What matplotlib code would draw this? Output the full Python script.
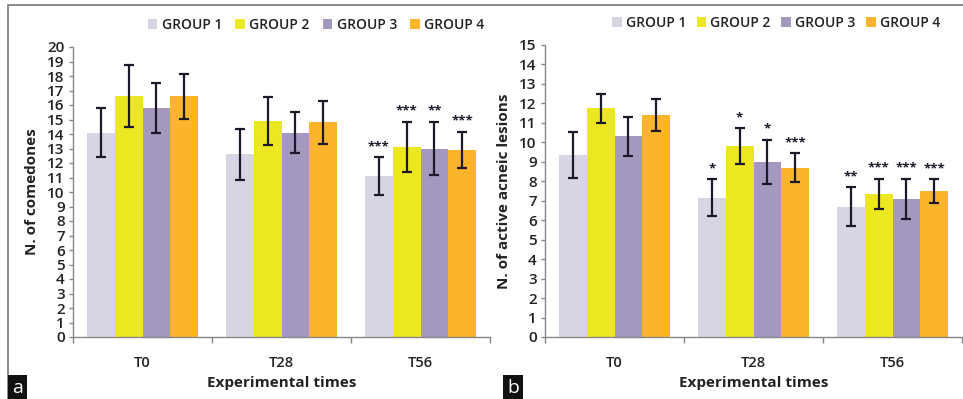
import numpy as np
import matplotlib
matplotlib.use('Agg')
import matplotlib.pyplot as plt
from matplotlib.patches import Rectangle

plt.rcParams['font.family'] = ['Open Sans', 'DejaVu Sans']

times = ['T0', 'T28', 'T56']
groups = ['GROUP 1', 'GROUP 2', 'GROUP 3', 'GROUP 4']
colors = ['#D9D4E3', '#EDE722', '#A498BF', '#FBB42B']

# panel a: comedones (rows = groups, cols = times)
comedones = [[14.1, 12.6, 11.1],
             [16.6, 14.9, 13.1],
             [15.8, 14.1, 13.0],
             [16.6, 14.8, 12.9]]
comedones_err = [[1.7, 1.75, 1.3],
                 [2.15, 1.65, 1.75],
                 [1.75, 1.4, 1.85],
                 [1.55, 1.5, 1.25]]
comedones_sig = [['', '', '***'],
                 ['', '', '***'],
                 ['', '', '**'],
                 ['', '', '***']]

# panel b: active acneic lesions
lesions = [[9.35, 7.15, 6.7],
           [11.75, 9.8, 7.35],
           [10.3, 9.0, 7.1],
           [11.4, 8.7, 7.5]]
lesions_err = [[1.2, 0.95, 0.98],
               [0.75, 0.92, 0.77],
               [1.0, 1.12, 1.03],
               [0.83, 0.73, 0.6]]
lesions_sig = [['', '*', '**'],
               ['', '*', '***'],
               ['', '*', '***'],
               ['', '***', '***']]

W, H = 963, 399
fig = plt.figure(figsize=(W/100, H/100), dpi=100)


def panel(rect, vals, errs, sigs, ymax, ylabel, letter, letter_x, legend_x, colsp):
	ax = fig.add_axes(rect)
	x = np.arange(len(times))
	bw = 0.2
	for i in range(len(groups)):
		pos = x - 0.3 + i*bw
		ax.bar(pos, vals[i], bw, color=colors[i], label=groups[i], zorder=2)
		ax.errorbar(pos, vals[i], yerr=errs[i], fmt='none', ecolor='#1c1a2a',
			elinewidth=1.6, capsize=3.5, capthick=1.6, zorder=3)
		for j in range(len(times)):
			if sigs[i][j]:
				ax.annotate(sigs[i][j], (pos[j], vals[i][j] + errs[i][j]),
					xytext=(0, 3), textcoords='offset points', ha='center', va='bottom',
					fontsize=9.5, fontweight='bold', color='#1c1a2a')
	ax.set_xlim(-0.5, len(times) - 0.5)
	ax.set_ylim(0, ymax)
	ax.set_yticks(range(0, ymax + 1))
	ax.set_xticks(x)
	ax.set_xticklabels(times)
	ax.set_xticks(np.arange(-0.5, len(times)), minor=True)
	ax.tick_params(axis='x', which='major', length=0, pad=14, labelsize=10.5)
	ax.tick_params(axis='x', which='minor', length=4, color='#888888', width=1)
	ax.tick_params(axis='y', length=3, color='#888888', width=1, pad=3, labelsize=11)
	for t in ax.get_xticklabels() + ax.get_yticklabels():
		t.set_fontweight('semibold')
		t.set_color('#222222')
	for s in ['top', 'right']:
		ax.spines[s].set_visible(False)
	for s in ['left', 'bottom']:
		ax.spines[s].set_color('#888888')
		ax.spines[s].set_linewidth(1)
	ax.set_ylabel(ylabel, fontsize=11, fontweight='bold', labelpad=6, color='#222222')
	ax.set_xlabel('Experimental times', fontsize=11, fontweight='bold', labelpad=4, color='#222222')
	leg = ax.legend(loc='center', bbox_to_anchor=legend_x, ncol=4, frameon=False,
		handlelength=0.7, handleheight=0.7, handletextpad=0.3, columnspacing=colsp,
		fontsize=10)
	for t in leg.get_texts():
		t.set_fontweight('semibold')
		t.set_color('#222222')
	fig.text(letter_x, 0.006, letter, color='white', fontsize=14, ha='left', va='bottom',
		bbox=dict(boxstyle='square,pad=0.2', facecolor='#111111', edgecolor='none'))
	return ax


panel([73/W, 62/H, 417/W, 290/H], comedones, comedones_err, comedones_sig, 20,
	'N. of comedones', 'a', 12/W, ((316 - 73)/417, (399 - 25 - 62)/290), 0.95)
panel([545/W, 62/H, 417/W, 292/H], lesions, lesions_err, lesions_sig, 15,
	'N. of active acneic lesions', 'b', 507/W, ((776 - 545)/417, (399 - 23 - 62)/292), 0.75)

# outer frame of the figure
fig.add_artist(Rectangle((8/W, -0.2), 1.2, 1.2 - 5/H, transform=fig.transFigure,
	fill=False, edgecolor='#777777', linewidth=1.2))

fig.savefig('out.png', dpi=100)
